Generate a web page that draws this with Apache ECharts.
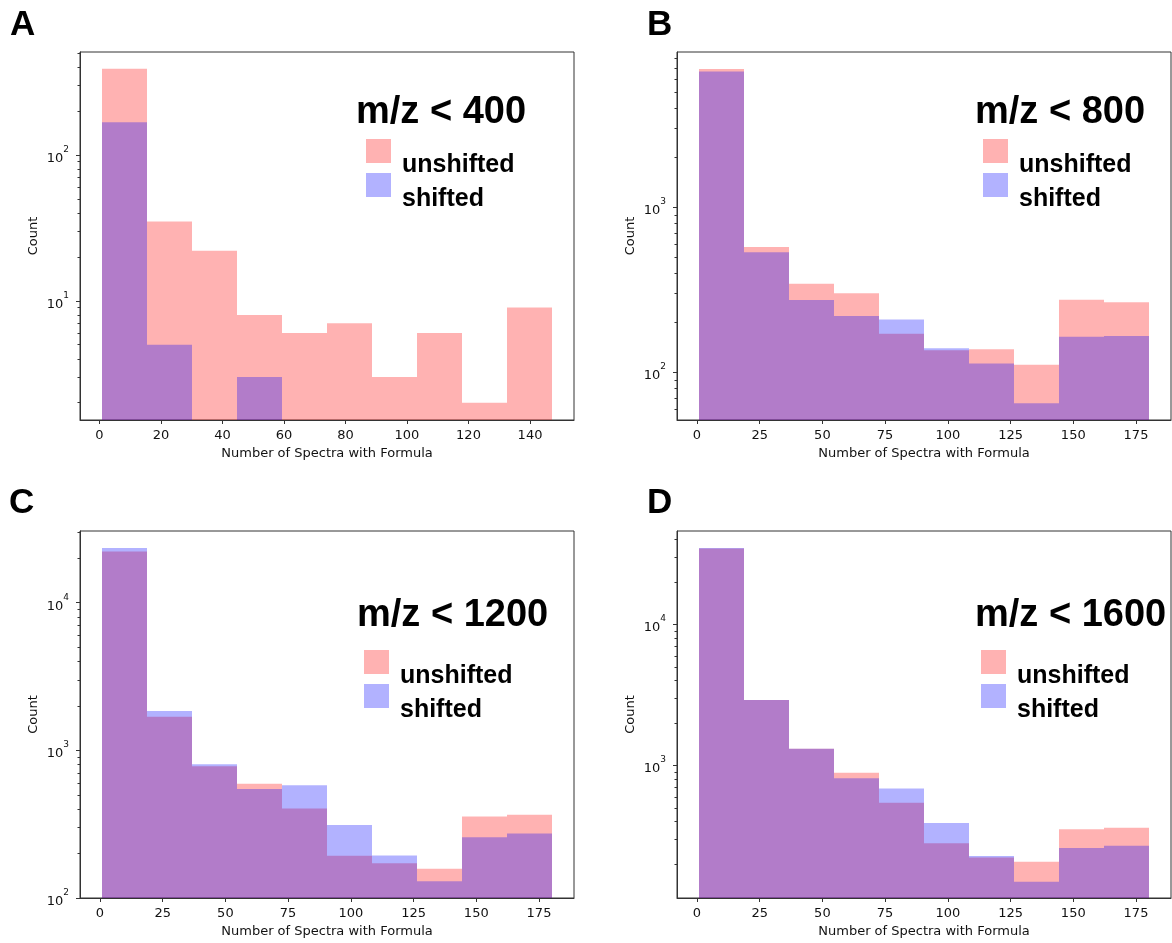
<!DOCTYPE html>
<html>
<head>
<meta charset="utf-8">
<script src="https://cdn.jsdelivr.net/npm/echarts@6/dist/echarts.min.js"></script>
<style>
html, body { margin: 0; padding: 0; background: #fff; }
#main { width: 1172px; height: 943px; }
</style>
</head>
<body>
<div id="main"></div>
<script>
// bin edges (matplotlib hist, 10 bins)
var edgesA = [1, 15.6, 30.2, 44.8, 59.4, 74, 88.6, 103.2, 117.8, 132.4, 147];
var edgesBCD = [1, 18.9, 36.8, 54.7, 72.6, 90.5, 108.4, 126.3, 144.2, 162.1, 180];

// counts per bin (null = empty bin)
var unshiftedA = [390, 35, 22, 8, 6, 7, 3, 6, 2, 9];
var shiftedA = [168, 5, null, 3, null, null, null, null, null, null];
var unshiftedB = [6890, 574, 344, 301, 171, 136, 138, 111, 275, 266];
var shiftedB = [6640, 534, 274, 219, 209, 140, 113, 65, 164, 166];
var unshiftedC = [22200, 1690, 780, 593, 404, 193, 172, 158, 357, 367];
var shiftedC = [23500, 1850, 805, 548, 581, 312, 194, 130, 258, 273];
var unshiftedD = [34600, 2920, 1313, 887, 545, 281, 223, 208, 353, 362];
var shiftedD = [34800, 2920, 1313, 813, 687, 391, 228, 150, 260, 270];

// tick labels
var xTicksA = [0, 20, 40, 60, 80, 100, 120, 140];
var xTicksBCD = [0, 25, 50, 75, 100, 125, 150, 175];
var majorA = [10, 100];
var majorB = [100, 1000];
var majorC = [100, 1000, 10000];
var majorD = [1000, 10000];
var minorA = [2, 3, 4, 5, 6, 7, 8, 9, 20, 30, 40, 50, 60, 70, 80, 90, 200, 300, 400, 500];
var minorB = [60, 70, 80, 90, 200, 300, 400, 500, 600, 700, 800, 900, 2000, 3000, 4000, 5000, 6000, 7000, 8000];
var minorC = [200, 300, 400, 500, 600, 700, 800, 900, 2000, 3000, 4000, 5000, 6000, 7000, 8000, 9000, 20000, 30000];
var minorD = [200, 300, 400, 500, 600, 700, 800, 900, 2000, 3000, 4000, 5000, 6000, 7000, 8000, 9000, 20000, 30000, 40000];

var titles = ['m/z < 400', 'm/z < 800', 'm/z < 1200', 'm/z < 1600'];
var letters = ['A', 'B', 'C', 'D'];

var panels = [
    { edges: edgesA, un: unshiftedA, sh: shiftedA, xTicks: xTicksA, major: majorA, minor: minorA,
      xMin: -6.3, xMax: 154.3, yMin: 1.52, yMax: 509,
      grid: { left: 80, top: 52, width: 494, height: 368 },
      letterPos: [10, 8], titlePos: [356, 94], legendPos: [366, 123] },
    { edges: edgesBCD, un: unshiftedB, sh: shiftedB, xTicks: xTicksBCD, major: majorB, minor: minorB,
      xMin: -7.95, xMax: 188.95, yMin: 51.4, yMax: 8730,
      grid: { left: 677, top: 52, width: 494, height: 368 },
      letterPos: [647, 8], titlePos: [975, 94], legendPos: [983, 123] },
    { edges: edgesBCD, un: unshiftedC, sh: shiftedC, xTicks: xTicksBCD, major: majorC, minor: minorC,
      xMin: -7.95, xMax: 188.95, yMin: 100, yMax: 30600,
      grid: { left: 80, top: 531, width: 494, height: 367 },
      letterPos: [9, 486], titlePos: [357, 597], legendPos: [364, 634] },
    { edges: edgesBCD, un: unshiftedD, sh: shiftedD, xTicks: xTicksBCD, major: majorD, minor: minorD,
      xMin: -7.95, xMax: 188.95, yMin: 115, yMax: 46000,
      grid: { left: 677, top: 531, width: 494, height: 367 },
      letterPos: [647, 486], titlePos: [975, 597], legendPos: [981, 634] }
];

var axisColor = '#333';
var textColor = '#111';
var tickFont = 'DejaVu Sans';

function binData(edges, values) {
    var out = [];
    for (var i = 0; i < values.length; i++) {
        if (values[i] != null) out.push([edges[i], edges[i + 1], values[i]]);
    }
    return out;
}

// one histogram bin: from its top down to the bottom of the plot
function renderBin(params, api) {
    var v = api.value(2);
    var p0 = api.coord([api.value(0), v]);
    var p1 = api.coord([api.value(1), v]);
    var x0 = Math.round(p0[0]);
    var x1 = Math.round(p1[0]);
    var bottom = params.coordSys.y + params.coordSys.height;
    return {
        type: 'rect',
        shape: { x: x0, y: p0[1], width: x1 - x0, height: bottom - p0[1] },
        style: api.style()
    };
}

function powLabel(value) {
    var e = Math.round(Math.log(value) / Math.LN10);
    return '{b|10}{s|' + e + '}';
}

var option = {
    backgroundColor: '#fff',
    animation: false,
    title: [],
    legend: [],
    grid: [],
    xAxis: [],
    yAxis: [],
    series: []
};

panels.forEach(function (p, k) {
    option.grid.push({
        left: p.grid.left, top: p.grid.top, width: p.grid.width, height: p.grid.height,
        show: true, borderColor: axisColor, borderWidth: 1
    });

    option.title.push({
        text: letters[k], left: p.letterPos[0], top: p.letterPos[1], padding: 0,
        textStyle: { fontFamily: 'Liberation Sans', fontSize: 35, fontWeight: 'bold', color: '#000' }
    });
    option.title.push({
        text: titles[k], left: p.titlePos[0], top: p.titlePos[1], padding: 0,
        textStyle: { fontFamily: 'Liberation Sans', fontSize: 38, fontWeight: 'bold', color: '#000' }
    });

    // legend text sits half a line below its patch, as in the original figure
    option.legend.push({
        data: ['unshifted', 'shifted'],
        orient: 'vertical',
        left: p.legendPos[0], top: p.legendPos[1],
        padding: 0,
        itemWidth: 25, itemHeight: 24, itemGap: -22,
        icon: 'rect',
        selectedMode: false,
        formatter: function (name) { return '\n' + name; },
        textStyle: {
            fontFamily: 'Liberation Sans', fontSize: 25, fontWeight: 'bold', color: '#000',
            lineHeight: 28, padding: [0, 0, 0, 6]
        }
    });

    option.xAxis.push({
        type: 'value', gridIndex: k, min: p.xMin, max: p.xMax,
        name: 'Number of Spectra with Formula', nameLocation: 'middle', nameGap: 27,
        nameTextStyle: { fontFamily: tickFont, fontSize: 13, color: textColor },
        axisLine: { show: true, onZero: false, lineStyle: { color: axisColor, width: 1 } },
        axisTick: { show: true, length: 4, customValues: p.xTicks, lineStyle: { color: axisColor } },
        axisLabel: { customValues: p.xTicks, margin: 9, fontFamily: tickFont, fontSize: 13, color: textColor },
        splitLine: { show: false }
    });

    option.yAxis.push({
        type: 'log', logBase: 10, gridIndex: k, min: p.yMin, max: p.yMax, position: 'left',
        name: 'Count', nameLocation: 'middle', nameGap: 40, nameRotate: 90,
        nameTextStyle: { fontFamily: tickFont, fontSize: 13, color: textColor },
        axisLine: { show: true, onZero: false, lineStyle: { color: axisColor, width: 1 } },
        axisTick: { show: true, length: 4, customValues: p.major, lineStyle: { color: axisColor } },
        axisLabel: {
            customValues: p.major, margin: 11, color: textColor,
            formatter: powLabel,
            rich: {
                b: { fontFamily: tickFont, fontSize: 13, color: textColor, lineHeight: 20, verticalAlign: 'bottom' },
                s: { fontFamily: tickFont, fontSize: 9, color: textColor, lineHeight: 20, verticalAlign: 'top' }
            }
        },
        splitLine: { show: false }
    });
    // minor ticks of the log axis
    option.yAxis.push({
        type: 'log', logBase: 10, gridIndex: k, min: p.yMin, max: p.yMax, position: 'left',
        axisLine: { show: false, onZero: false },
        axisTick: { show: true, length: 2.5, customValues: p.minor, lineStyle: { color: axisColor } },
        axisLabel: { show: false },
        splitLine: { show: false }
    });

    option.series.push({
        name: 'unshifted', type: 'custom', xAxisIndex: k, yAxisIndex: 2 * k,
        renderItem: renderBin, encode: { x: [0, 1], y: 2 },
        itemStyle: { color: 'rgba(255,0,0,0.3)' },
        data: binData(p.edges, p.un)
    });
    option.series.push({
        name: 'shifted', type: 'custom', xAxisIndex: k, yAxisIndex: 2 * k,
        renderItem: renderBin, encode: { x: [0, 1], y: 2 },
        itemStyle: { color: 'rgba(0,0,255,0.3)' },
        data: binData(p.edges, p.sh)
    });
});

var myChart = echarts.init(document.getElementById('main'));
myChart.setOption(option);
</script>
</body>
</html>
